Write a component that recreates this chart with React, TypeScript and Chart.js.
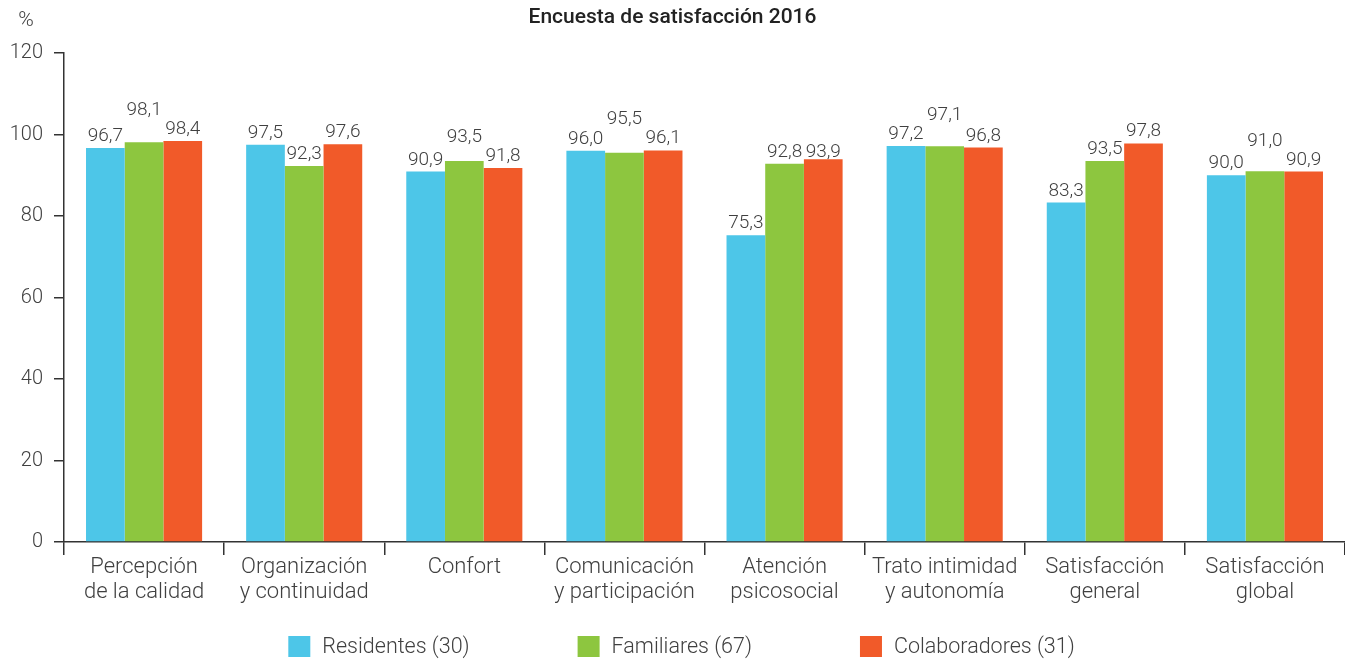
import React, { useEffect, useRef } from 'react';
import { Chart, registerables } from 'chart.js';

Chart.register(...registerables);

const chartTitle = 'Encuesta de satisfacción 2016';
const yUnit = '%';
const categories: (string | string[])[] = [
  ['Percepción', 'de la calidad'],
  ['Organización', 'y continuidad'],
  'Confort',
  ['Comunicación', 'y participación'],
  ['Atención', 'psicosocial'],
  ['Trato intimidad', 'y autonomía'],
  ['Satisfacción', 'general'],
  ['Satisfacción', 'global'],
];
const seriesNames = ['Residentes (30)', 'Familiares (67)', 'Colaboradores (31)'];
const residentes = [96.7, 97.5, 90.9, 96.0, 75.3, 97.2, 83.3, 90.0];
const familiares = [98.1, 92.3, 93.5, 95.5, 92.8, 97.1, 93.5, 91.0];
const colaboradores = [98.4, 97.6, 91.8, 96.1, 93.9, 96.8, 97.8, 90.9];
const seriesColors = ['#4dc6e8', '#8dc63f', '#f15a29'];
const yMin = 0;
const yMax = 120;
const yStep = 20;

const FONT = 'Roboto, "Noto Sans", sans-serif';
const TEXT = '#404040';
const AXIS = '#333333';

const fmt = (v: number) => v.toFixed(1).replace('.', ',');

const valueLabels = {
  id: 'valueLabels',
  afterDatasetsDraw(chart: any) {
    const ctx = chart.ctx;
    const metas = chart.data.datasets.map((_: any, d: number) => chart.getDatasetMeta(d));
    const GAP = 7;
    const TEXT_H = 15;
    const RAISE = 19;
    ctx.save();
    ctx.font = `300 19px ${FONT}`;
    ctx.fillStyle = TEXT;
    ctx.textAlign = 'center';
    ctx.textBaseline = 'alphabetic';
    const n = chart.data.labels.length;
    for (let i = 0; i < n; i++) {
      const bars = metas.map((m: any) => m.data[i]);
      const base = bars.map((b: any) => b.y - GAP);
      if (base.length === 3) {
        const mid = base[1];
        const conflicts = [0, 2].filter((k) => Math.abs(base[k] - mid) < TEXT_H);
        if (conflicts.length) {
          const highest = Math.min(...conflicts.map((k) => base[k]));
          if (mid - highest > 3) {
            conflicts.forEach((k) => (base[k] = mid));
          } else {
            base[1] = highest - RAISE;
          }
        }
      }
      bars.forEach((b: any, k: number) => {
        const v = chart.data.datasets[k].data[i];
        ctx.fillText(fmt(v), b.x, base[k]);
      });
    }
    ctx.restore();
  },
};

const decorations = {
  id: 'decorations',
  afterDraw(chart: any) {
    const ctx = chart.ctx;
    ctx.save();
    // title
    ctx.font = `500 21px ${FONT}`;
    ctx.fillStyle = '#222222';
    ctx.textAlign = 'center';
    ctx.textBaseline = 'middle';
    ctx.fillText(chartTitle, chart.width / 2, 18);
    // unit
    ctx.font = `300 21px ${FONT}`;
    ctx.fillStyle = TEXT;
    ctx.fillText(yUnit, 26, 21);
    // legend
    const boxW = 22;
    const boxH = 21;
    const gapText = 12;
    const gapItem = 108;
    ctx.font = `300 21.5px ${FONT}`;
    const widths = chart.data.datasets.map((d: any) => ctx.measureText(d.label).width);
    const total =
      widths.reduce((s: number, w: number) => s + boxW + gapText + w, 0) + gapItem * (widths.length - 1);
    let x = chart.width / 2 + 9 - total / 2;
    const yTop = 636;
    ctx.textAlign = 'left';
    chart.data.datasets.forEach((d: any, k: number) => {
      ctx.fillStyle = d.backgroundColor;
      ctx.fillRect(x, yTop, boxW, boxH);
      x += boxW + gapText;
      ctx.fillStyle = TEXT;
      ctx.fillText(d.label, x, yTop + boxH / 2 + 1);
      x += widths[k] + gapItem;
    });
    ctx.restore();
  },
};

export default function App() {
  const ref = useRef<HTMLCanvasElement | null>(null);

  useEffect(() => {
    if (!ref.current) return;
    const seriesValues = [residentes, familiares, colaboradores];
    const chart = new Chart(ref.current, {
      type: 'bar',
      data: {
        labels: categories,
        datasets: seriesNames.map((name, k) => ({
          label: name,
          data: seriesValues[k],
          backgroundColor: seriesColors[k],
          borderWidth: 0,
          categoryPercentage: 0.725,
          barPercentage: 1.0,
        })),
      },
      options: {
        animation: false,
        responsive: true,
        maintainAspectRatio: false,
        layout: { padding: { top: 53, right: 0, bottom: 0, left: 0 } },
        plugins: {
          legend: { display: false },
          title: { display: false },
          tooltip: { enabled: false },
        },
        scales: {
          x: {
            offset: true,
            grid: {
              offset: true,
              drawOnChartArea: false,
              drawTicks: true,
              tickLength: 13,
              color: AXIS,
              lineWidth: 1.5,
            },
            border: { display: true, color: AXIS, width: 1.5 },
            ticks: {
              color: TEXT,
              padding: 0,
              maxRotation: 0,
              autoSkip: false,
              font: { family: FONT, size: 22, weight: 300 as any, lineHeight: 1.15 },
            },
            afterFit: (scale: any) => {
              scale.height = 117;
            },
          },
          y: {
            min: yMin,
            max: yMax,
            ticks: {
              stepSize: yStep,
              color: TEXT,
              padding: 11,
              font: { family: FONT, size: 20, weight: 300 as any },
            },
            grid: {
              drawOnChartArea: false,
              drawTicks: true,
              tickLength: 10,
              color: AXIS,
              lineWidth: 1.5,
            },
            border: { display: true, color: AXIS, width: 1.5 },
            afterFit: (scale: any) => {
              scale.width = 64;
            },
          },
        },
      },
      plugins: [valueLabels, decorations],
    });
    return () => chart.destroy();
  }, []);

  return (
    <div style={{ position: 'absolute', left: 0, top: 0, width: 1345, height: 659, background: '#fff' }}>
      <canvas ref={ref} />
    </div>
  );
}
